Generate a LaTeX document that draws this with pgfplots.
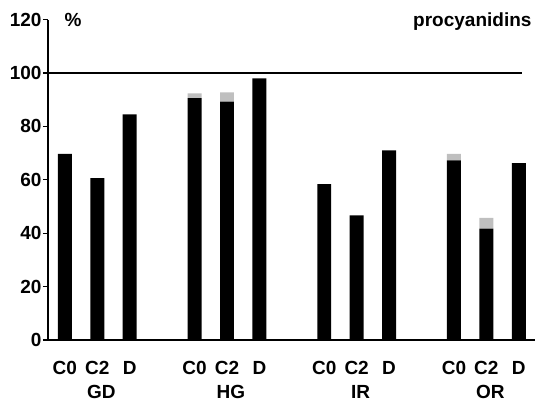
\documentclass[border=0pt]{standalone}
\usepackage{pgfplots}
\pgfplotsset{compat=1.18}
\usepackage{fontspec}
\setmainfont{Liberation Sans}
\begin{document}
\begin{tikzpicture}
\begin{axis}[
  scale only axis, width=487pt, height=320.4pt,
  xmin=-0.52, xmax=14.5, ymin=0, ymax=120,
  axis x line=bottom, axis y line=left,
  axis line style={-, line width=1.3pt},
  ytick={0,20,...,120},
  xtick={0,1,2,4,5,6,8,9,10,12,13,14},
  xticklabels={C0,C2,D,C0,C2,D,C0,C2,D,C0,C2,D},
  x tick style={draw=none},
  y tick style={line width=1.3pt, black},
  tick align=outside, major tick length=5pt,
  ticklabel style={font=\fontsize{19}{22}\selectfont\bfseries},
  xticklabel style={anchor=base, yshift=-29.5pt},
  yticklabel style={xshift=2pt},
  /pgf/number format/assume math mode=true,
  ybar stacked, bar width=0.43,
  clip=false,
]
\addplot[fill=black, draw=none] coordinates {
  (0,69.7) (1,60.6) (2,84.5)
  (4,90.6) (5,89.3) (6,98)
  (8,58.4) (9,46.7) (10,71)
  (12,67.3) (13,41.7) (14,66.2)};
\addplot[fill=black!25, draw=none] coordinates {
  (0,0) (1,0) (2,0)
  (4,1.8) (5,3.4) (6,0)
  (8,0) (9,0) (10,0)
  (12,2.4) (13,4.0) (14,0)};
\draw[line width=1.3pt] (axis cs:-0.52,100) -- (axis cs:14.1,100);
\node[anchor=base, font=\fontsize{19}{22}\selectfont\bfseries] at (axis cs:0.25,120) [yshift=-6.5pt] {\%};
\node[anchor=base east, font=\fontsize{19}{22}\selectfont\bfseries] at (rel axis cs:1,1) [yshift=-7pt] {procyanidins};
\node[anchor=base, font=\fontsize{19}{22}\selectfont\bfseries] at (axis cs:1,0) [xshift=4pt, yshift=-59pt] {GD};
\node[anchor=base, font=\fontsize{19}{22}\selectfont\bfseries] at (axis cs:5,0) [xshift=4pt, yshift=-59pt] {HG};
\node[anchor=base, font=\fontsize{19}{22}\selectfont\bfseries] at (axis cs:9,0) [xshift=4pt, yshift=-59pt] {IR};
\node[anchor=base, font=\fontsize{19}{22}\selectfont\bfseries] at (axis cs:13,0) [xshift=4pt, yshift=-59pt] {OR};
\end{axis}
\path (current axis.south west) ++(-48pt,-64pt) rectangle ([xshift=4pt,yshift=19.6pt]current axis.north east);
\end{tikzpicture}
\end{document}
